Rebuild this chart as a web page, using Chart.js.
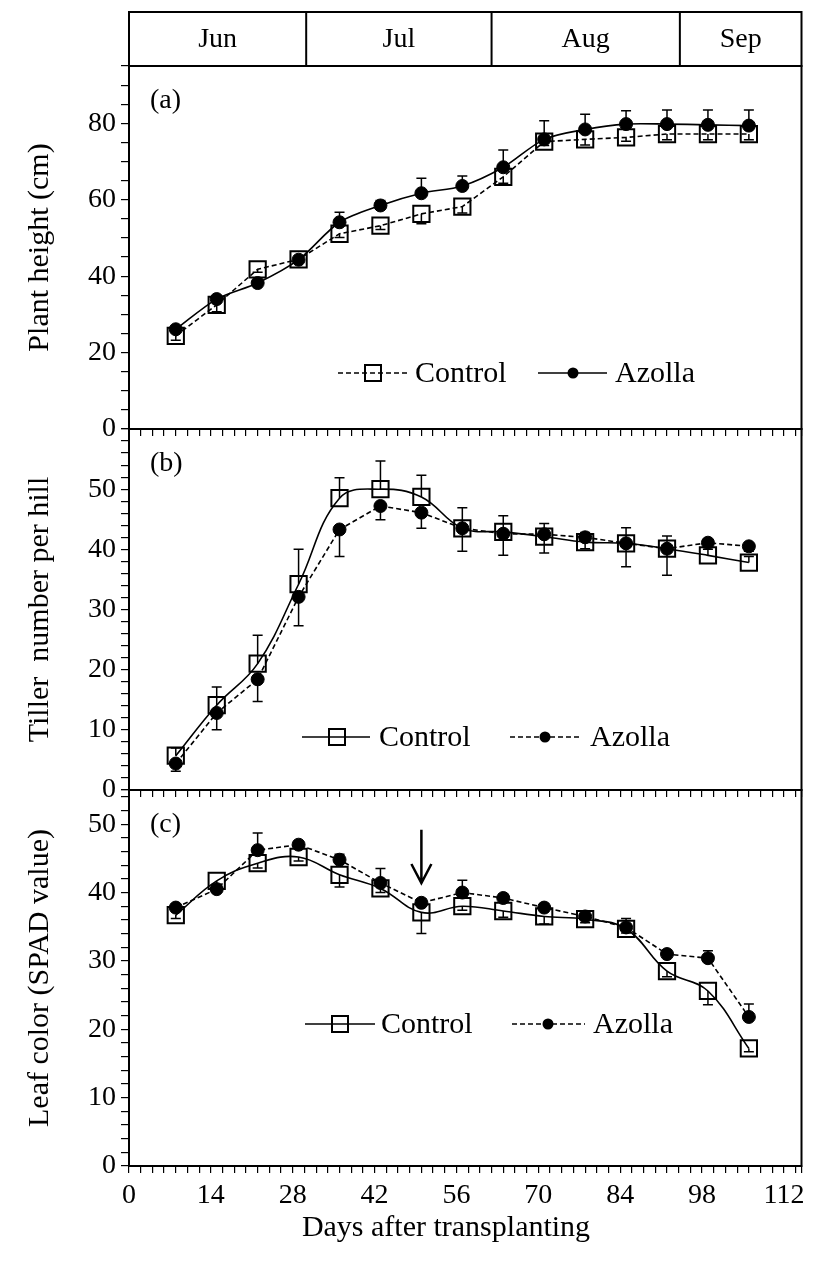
<!DOCTYPE html>
<html>
<head>
<meta charset="utf-8">
<script src="https://cdn.jsdelivr.net/npm/chart.js@4.4.1/dist/chart.umd.min.js"></script>
<style>
html, body { margin: 0; padding: 0; background: #fff; }
#wrap { position: relative; width: 815px; height: 1263px; }
#wrap canvas { position: absolute; left: 0; top: 0; }
</style>
</head>
<body>
<div id="wrap">
  <canvas id="panelA" width="815" height="1263"></canvas>
  <canvas id="panelB" width="815" height="1263"></canvas>
  <canvas id="panelC" width="815" height="1263"></canvas>
</div>
<script>
// sampling dates, days after transplanting
var days = [8, 15, 22, 29, 36, 43, 50, 57, 64, 71, 78, 85, 92, 99, 106];

// (a) plant height (cm)
var heightControl    = [24.4, 32.5, 41.8, 44.4, 51.1, 53.2, 56.3, 58.2, 66.0, 75.2, 75.8, 76.3, 77.2, 77.2, 77.2];
var heightControlErr = [1.2, 1.8, 0.8, 0.6, 1.0, 1.0, 2.6, 1.7, 1.7, 1.0, 1.5, 1.0, 1.5, 1.5, 1.5];
var heightAzolla     = [26.1, 34.0, 38.2, 44.3, 54.1, 58.5, 61.7, 63.6, 68.5, 75.8, 78.4, 79.8, 79.8, 79.6, 79.4];
var heightAzollaErr  = [0.8, 0.8, 0.8, 0.6, 2.6, 1.3, 3.9, 2.6, 4.5, 4.9, 4.0, 3.5, 3.7, 3.9, 4.1];

// (b) tiller number per hill
var tillerControl    = [5.7, 14.1, 21.0, 34.2, 48.5, 50.0, 48.7, 43.5, 42.9, 42.1, 41.2, 41.0, 40.1, 39.0, 37.8];
var tillerControlErr = [1.3, 3.0, 4.7, 5.8, 3.4, 4.7, 3.6, 3.4, 2.7, 2.2, 1.6, 2.6, 2.1, 1.0, 1.0];
var tillerAzolla     = [4.4, 12.8, 18.4, 32.1, 43.3, 47.2, 46.1, 43.5, 42.6, 42.5, 42.0, 41.0, 40.1, 41.1, 40.5];
var tillerAzollaErr  = [1.3, 2.8, 3.7, 4.8, 4.5, 2.3, 2.6, 3.8, 3.6, 3.1, 1.9, 3.9, 4.4, 0.8, 0.8];

// (c) leaf colour (SPAD)
var spadControl    = [36.7, 41.7, 44.3, 45.2, 42.6, 40.6, 37.1, 38.0, 37.3, 36.5, 36.1, 34.7, 28.5, 25.6, 17.2];
var spadControlErr = [0.5, 0.5, 0.7, 0.6, 1.8, 0.6, 3.1, 0.6, 0.9, 1.1, 0.5, 0.6, 0.8, 2.0, 0.5];
var spadAzolla     = [37.8, 40.5, 46.2, 47.0, 44.8, 41.4, 38.5, 40.0, 39.2, 37.8, 36.5, 34.9, 31.0, 30.4, 21.8];
var spadAzollaErr  = [0.5, 0.5, 2.5, 0.5, 0.8, 2.1, 0.6, 1.8, 0.6, 0.6, 0.5, 1.3, 0.6, 1.1, 1.9];

// arrow in (c): day, from, to
var arrowDay = 50, arrowFrom = 49.2, arrowTo = 41.4;

// month strip on top
var months = ['Jun', 'Jul', 'Aug', 'Sep'];
var monthEdges = [0, 30.3, 62, 94.2, 115];

var ink = '#000';
var serif = '"Liberation Serif", "Times New Roman", serif';
Chart.defaults.font.family = serif;
Chart.defaults.color = ink;

function series(vals) {
    return days.map(function(d, i) { return {x: d, y: vals[i]}; });
}

function drawMark(ctx, type, x, y) {
    ctx.save();
    ctx.setLineDash([]);
    if (type === 'rect') {
        ctx.lineWidth = 2;
        ctx.strokeRect(x - 8, y - 8, 16, 16);
    } else {
        ctx.beginPath();
        ctx.arc(x, y, 5.5, 0, Math.PI * 2);
        ctx.fill();
    }
    ctx.restore();
}

// error bars, frame, legend and labels for one panel
function decor(cfg) {
    return {
        id: 'decor',
        beforeDatasetsDraw: function(chart) {
            var ctx = chart.ctx, x = chart.scales.x, y = chart.scales.y;
            ctx.save();
            ctx.strokeStyle = ink;
            ctx.lineWidth = 1.5;
            chart.data.datasets.forEach(function(ds) {
                ds.data.forEach(function(p, i) {
                    var e = ds.errors[i];
                    var end = ds.errSide === 'up' ? p.y + e : p.y - e;
                    var px = x.getPixelForValue(p.x);
                    var y0 = y.getPixelForValue(p.y), y1 = y.getPixelForValue(end);
                    ctx.beginPath();
                    ctx.moveTo(px, y0); ctx.lineTo(px, y1);
                    ctx.moveTo(px - 5, y1); ctx.lineTo(px + 5, y1);
                    ctx.stroke();
                });
            });
            ctx.restore();
        },
        afterDraw: function(chart) {
            var ctx = chart.ctx, a = chart.chartArea, x = chart.scales.x, y = chart.scales.y;
            ctx.save();
            ctx.strokeStyle = ink;
            ctx.fillStyle = ink;
            ctx.lineWidth = 2;
            ctx.strokeRect(a.left, a.top, a.right - a.left, a.bottom - a.top);

            ctx.font = '28px ' + serif;
            ctx.textBaseline = 'middle';
            ctx.textAlign = 'left';
            ctx.fillText(cfg.tag, a.left + 21, a.top + 35);

            // legend
            cfg.legend.forEach(function(it) {
                ctx.lineWidth = 1.5;
                ctx.setLineDash(it.dash ? [5, 3] : []);
                ctx.beginPath();
                ctx.moveTo(it.x1, cfg.legendY); ctx.lineTo(it.x2, cfg.legendY);
                ctx.stroke();
                ctx.setLineDash([]);
                drawMark(ctx, it.mark, it.mx, cfg.legendY);
                ctx.font = '30px ' + serif;
                ctx.fillText(it.text, it.tx, cfg.legendY + 1);
            });

            if (cfg.header) {
                var top = 12;
                ctx.lineWidth = 2;
                ctx.strokeRect(a.left, top, a.right - a.left, a.top - top);
                ctx.font = '28px ' + serif;
                ctx.textAlign = 'center';
                for (var i = 0; i < months.length; i++) {
                    var l = x.getPixelForValue(monthEdges[i]);
                    var r = Math.min(x.getPixelForValue(monthEdges[i + 1]), a.right);
                    if (i > 0) {
                        ctx.beginPath(); ctx.moveTo(l, top); ctx.lineTo(l, a.top); ctx.stroke();
                    }
                    ctx.fillText(months[i], (l + r) / 2, (top + a.top) / 2 + 1);
                }
            }

            if (cfg.arrow) {
                var ax = x.getPixelForValue(arrowDay);
                var ya = y.getPixelForValue(arrowFrom), yb = y.getPixelForValue(arrowTo);
                ctx.lineWidth = 2.5;
                ctx.beginPath();
                ctx.moveTo(ax, ya); ctx.lineTo(ax, yb);
                ctx.moveTo(ax - 10, yb - 19); ctx.lineTo(ax, yb); ctx.lineTo(ax + 10, yb - 19);
                ctx.stroke();
            }

            if (cfg.xTitle) {
                ctx.font = '30px ' + serif;
                ctx.textAlign = 'center';
                ctx.fillText(cfg.xTitle, 446, 1228);
            }
            ctx.restore();
        }
    };
}

function panel(id, cfg) {
    return new Chart(document.getElementById(id), {
        type: 'line',
        data: {
            datasets: [
                {
                    label: 'Azolla', data: series(cfg.azolla), errors: cfg.azollaErr, errSide: cfg.azollaSide,
                    order: 0, borderColor: ink, backgroundColor: ink, borderWidth: 1.6,
                    borderDash: cfg.azollaDash ? [5, 3] : [], tension: cfg.azollaDash ? 0 : cfg.tension,
                    pointStyle: 'circle', pointRadius: 6.5, pointBackgroundColor: ink,
                    pointBorderColor: ink, pointBorderWidth: 1
                },
                {
                    label: 'Control', data: series(cfg.control), errors: cfg.controlErr, errSide: cfg.controlSide,
                    order: 1, borderColor: ink, backgroundColor: 'rgba(0,0,0,0)', borderWidth: 1.6,
                    borderDash: cfg.azollaDash ? [] : [5, 3], tension: cfg.azollaDash ? cfg.tension : 0,
                    pointStyle: 'rect', pointRadius: 11.5, pointBackgroundColor: 'rgba(0,0,0,0)',
                    pointBorderColor: ink, pointBorderWidth: 2
                }
            ]
        },
        options: {
            responsive: false,
            animation: false,
            events: [],
            layout: {padding: {left: 0, right: 9, top: cfg.top, bottom: 1263 - cfg.bottom - cfg.xHeight}},
            plugins: {legend: {display: false}, tooltip: {enabled: false}},
            scales: {
                x: {
                    type: 'linear', min: 0, max: 115, bounds: 'data',
                    afterFit: function(s) { s.height = cfg.xHeight; },
                    border: {display: true, color: ink, width: 2},
                    grid: {drawOnChartArea: false, drawTicks: true, tickLength: 7, color: ink, lineWidth: 1.2},
                    ticks: {
                        display: cfg.xLabels, stepSize: 2, autoSkip: false, maxRotation: 0, minRotation: 0,
                        includeBounds: false, maxTicksLimit: 1000, padding: 6, font: {size: 28},
                        callback: function(v) { return v % 14 === 0 ? v : ''; }
                    }
                },
                y: {
                    type: 'linear', min: 0, max: cfg.yMax, bounds: 'data',
                    afterFit: function(s) { s.width = 129; },
                    border: {display: true, color: ink, width: 2},
                    grid: {drawOnChartArea: false, drawTicks: true, tickLength: 8, color: ink, lineWidth: 1.2},
                    ticks: {
                        stepSize: cfg.yMinor, autoSkip: false, includeBounds: false, maxTicksLimit: 1000,
                        padding: 5, font: {size: 28},
                        // the top of each lower panel stays unlabelled
                        callback: function(v) { return (v % cfg.yMajor === 0 && v < cfg.yMax) ? v : ''; }
                    },
                    title: {display: true, text: cfg.yTitle, font: {size: 30}, padding: {top: 22, bottom: 0}}
                }
            }
        },
        plugins: [decor(cfg)]
    });
}

panel('panelA', {
    tag: '(a)', top: 66, bottom: 429, xHeight: 10, xLabels: false,
    yMax: 95, yMinor: 5, yMajor: 20, yTitle: 'Plant height (cm)',
    control: heightControl, controlErr: heightControlErr, controlSide: 'down',
    azolla: heightAzolla, azollaErr: heightAzollaErr, azollaSide: 'up', azollaDash: false, tension: 0.3,
    header: true, legendY: 373,
    legend: [
        {text: 'Control', dash: true, x1: 338, x2: 408, mark: 'rect', mx: 373, tx: 415},
        {text: 'Azolla', dash: false, x1: 538, x2: 607, mark: 'circle', mx: 573, tx: 615}
    ]
});

panel('panelB', {
    tag: '(b)', top: 429, bottom: 790, xHeight: 10, xLabels: false,
    yMax: 60, yMinor: 2, yMajor: 10, yTitle: 'Tiller  number per hill',
    control: tillerControl, controlErr: tillerControlErr, controlSide: 'up',
    azolla: tillerAzolla, azollaErr: tillerAzollaErr, azollaSide: 'down', azollaDash: true, tension: 0.4,
    legendY: 737,
    legend: [
        {text: 'Control', dash: false, x1: 302, x2: 370, mark: 'rect', mx: 337, tx: 379},
        {text: 'Azolla', dash: true, x1: 510, x2: 582, mark: 'circle', mx: 545, tx: 590}
    ]
});

panel('panelC', {
    tag: '(c)', top: 790, bottom: 1166, xHeight: 60, xLabels: true,
    yMax: 55, yMinor: 2, yMajor: 10, yTitle: 'Leaf color (SPAD value)',
    control: spadControl, controlErr: spadControlErr, controlSide: 'down',
    azolla: spadAzolla, azollaErr: spadAzollaErr, azollaSide: 'up', azollaDash: true, tension: 0.4,
    arrow: true, xTitle: 'Days after transplanting',
    legendY: 1024,
    legend: [
        {text: 'Control', dash: false, x1: 305, x2: 375, mark: 'rect', mx: 340, tx: 381},
        {text: 'Azolla', dash: true, x1: 512, x2: 585, mark: 'circle', mx: 548, tx: 593}
    ]
});
</script>
</body>
</html>
